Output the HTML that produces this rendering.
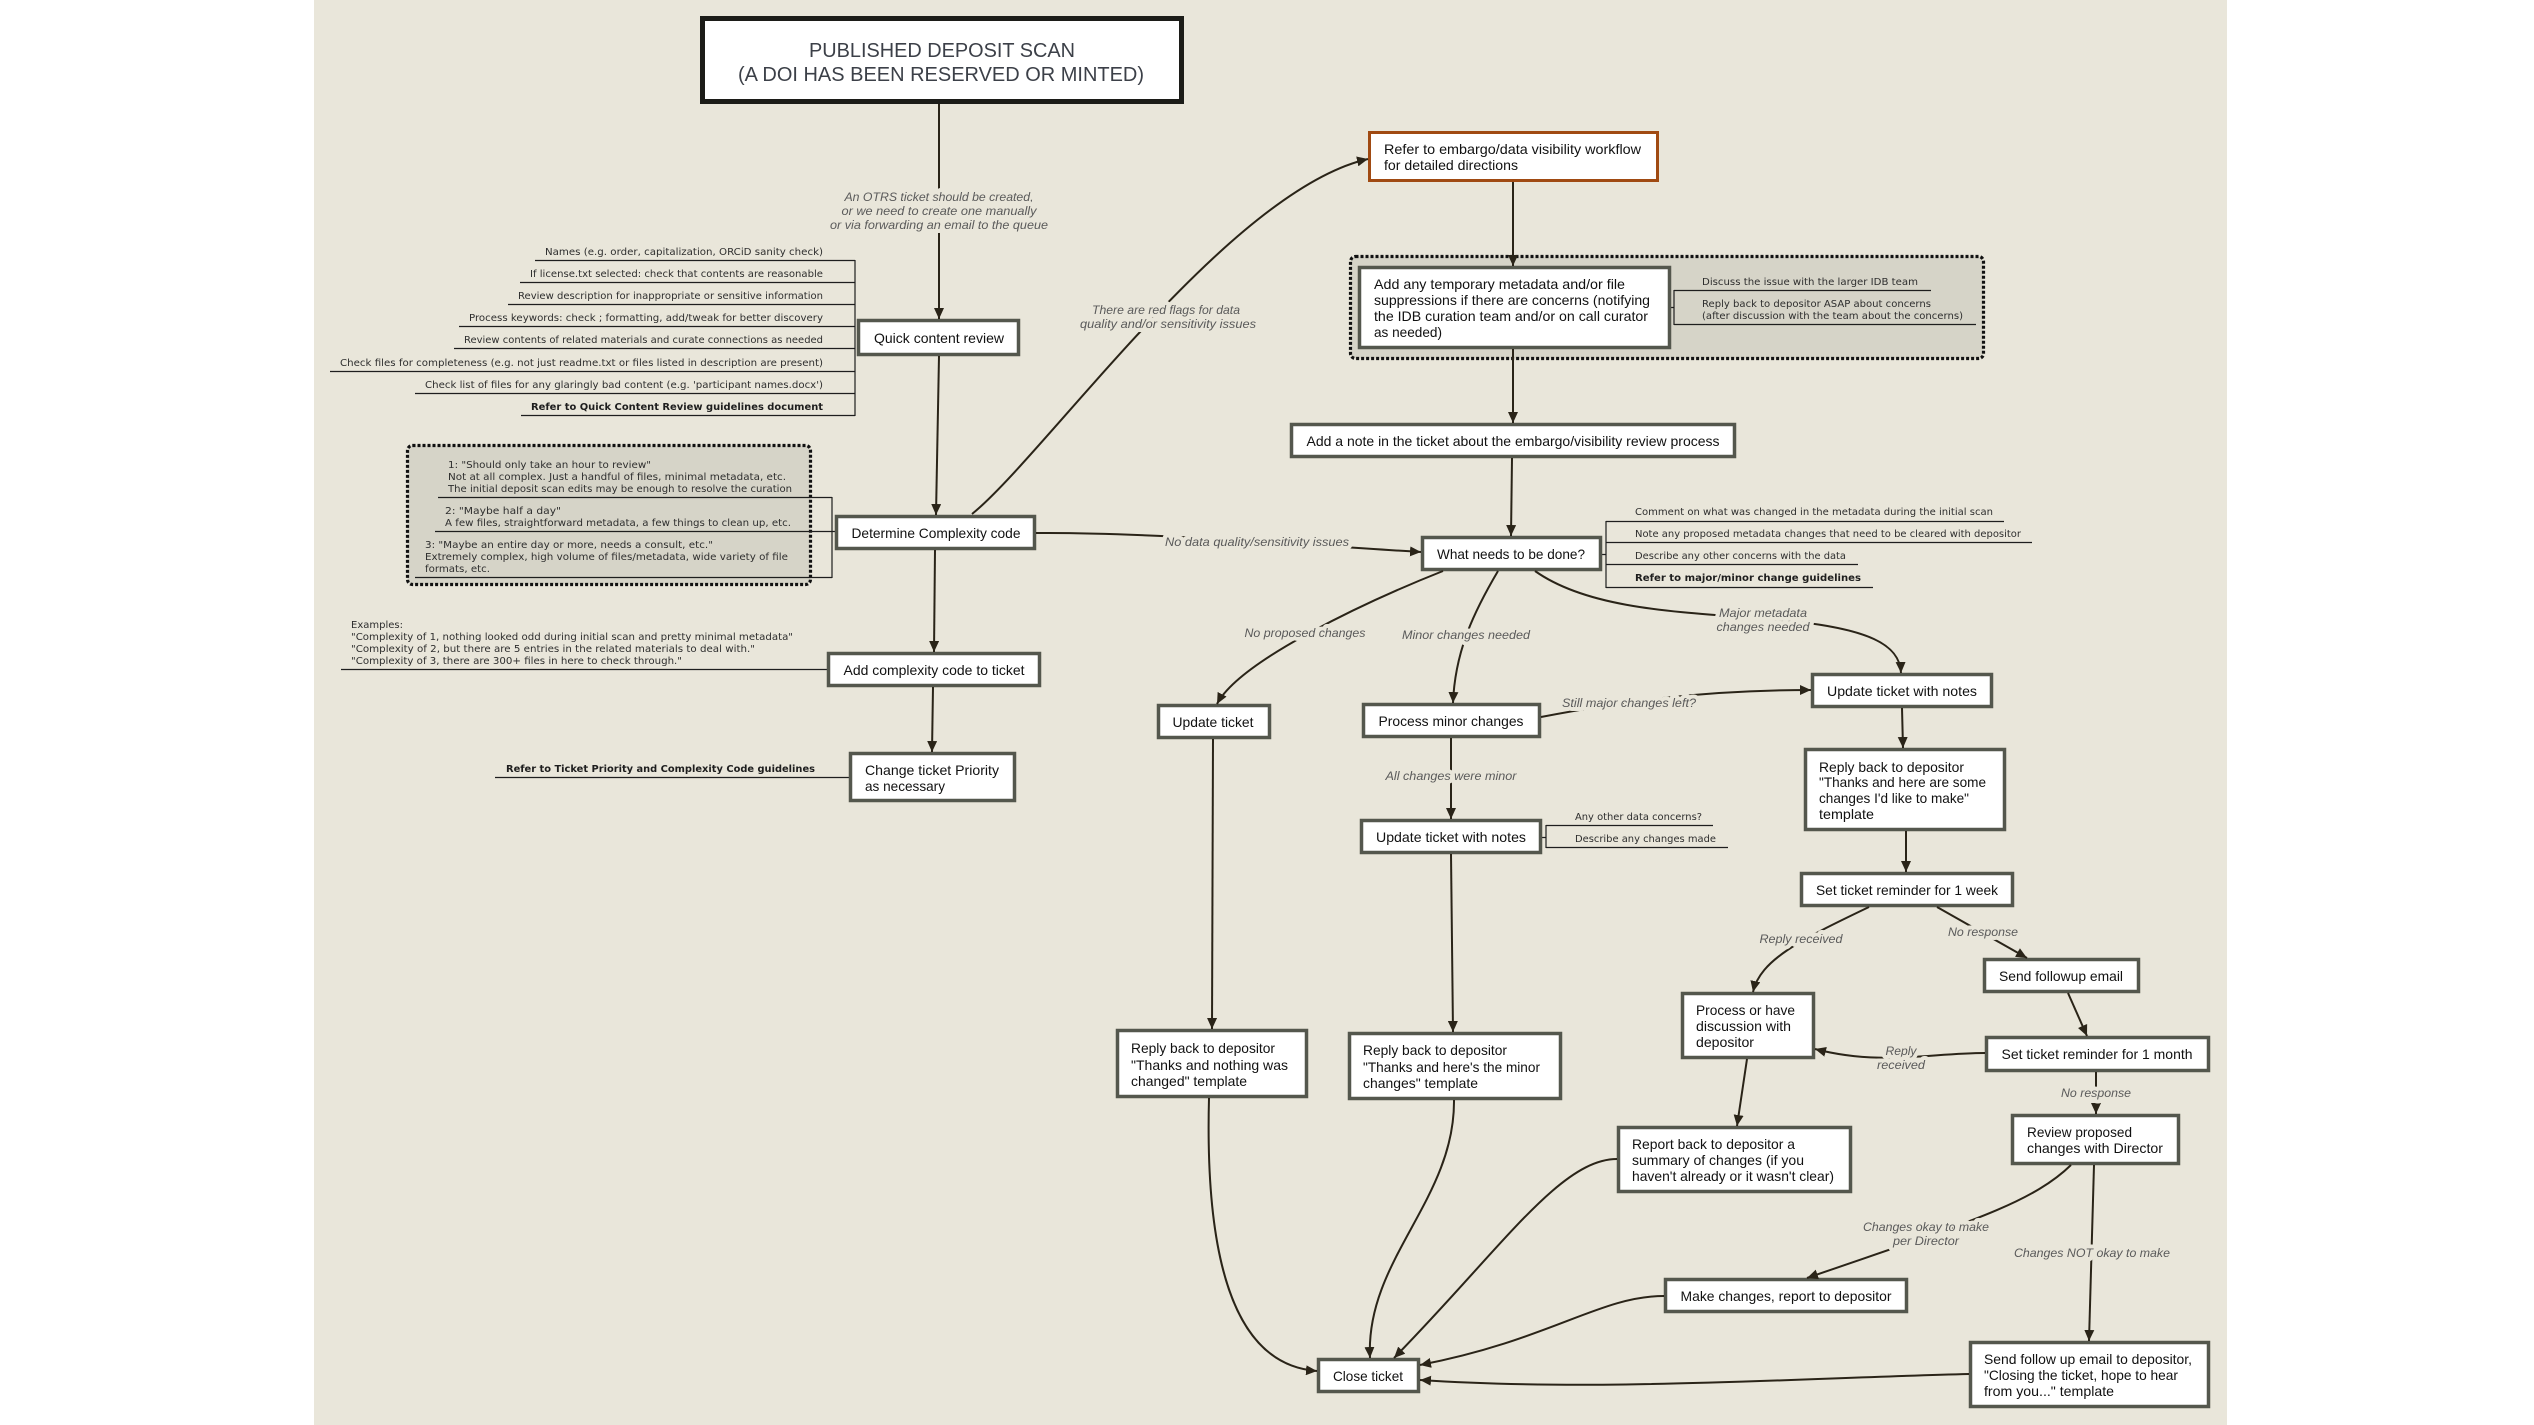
<!DOCTYPE html>
<html>
<head>
<meta charset="utf-8">
<style>
html,body{margin:0;padding:0;background:#ffffff;}
svg{display:block;}
.bx{fill:#ffffff;stroke:#54574d;stroke-width:3.5;}
.t{font-family:"Liberation Sans",Arial,sans-serif;font-size:14px;fill:#111111;}
.n{font-family:"DejaVu Sans","Liberation Sans",sans-serif;font-size:10px;fill:#2e2e2e;}
.nb{font-family:"DejaVu Sans","Liberation Sans",sans-serif;font-size:10px;font-weight:bold;fill:#1e1e1e;}
.l{font-family:"Liberation Sans",Arial,sans-serif;font-size:12px;font-style:italic;fill:#5a5a5a;stroke:#e9e6da;stroke-width:8;paint-order:stroke;stroke-linejoin:round;}
.c{fill:none;stroke:#2a2418;stroke-width:2;}
.u{fill:none;stroke:#1e1e1e;stroke-width:1.2;}
.dot{fill:#d6d4c8;stroke:#111111;stroke-width:3.2;stroke-dasharray:3 2;}
</style>
</head>
<body>
<svg width="2534" height="1425" viewBox="0 0 2534 1425" xmlns="http://www.w3.org/2000/svg">
<defs>
<marker id="a" markerUnits="userSpaceOnUse" markerWidth="11" markerHeight="10" refX="11" refY="5" orient="auto">
<path d="M0,0 L11,5 L0,10 z" fill="#2a2418"/>
</marker>
</defs>

<rect x="0" y="0" width="2534" height="1425" fill="#ffffff"/>
<rect x="314" y="0" width="1913" height="1425" fill="#e9e6da"/>

<!-- dotted groups -->
<rect class="dot" x="407.5" y="445.5" width="403" height="139" rx="5"/>
<rect class="dot" x="1350.5" y="256.5" width="633" height="102" rx="5"/>

<!-- title -->
<rect x="702.5" y="18.5" width="479" height="83" fill="#ffffff" stroke="#1c1c18" stroke-width="5"/>
<text x="942" y="57" text-anchor="middle" font-family="Liberation Sans, Arial, sans-serif" font-size="20" fill="#3c4048" textLength="266" lengthAdjust="spacingAndGlyphs">PUBLISHED DEPOSIT SCAN</text>
<text x="941" y="81" text-anchor="middle" font-family="Liberation Sans, Arial, sans-serif" font-size="20" fill="#3c4048" textLength="406" lengthAdjust="spacingAndGlyphs">(A DOI HAS BEEN RESERVED OR MINTED)</text>

<!-- left notes for quick review -->
<g>
<text class="n" x="823" y="255" text-anchor="end" textLength="278" lengthAdjust="spacingAndGlyphs">Names (e.g. order, capitalization, ORCiD sanity check)</text>
<text class="n" x="823" y="277" text-anchor="end" textLength="293" lengthAdjust="spacingAndGlyphs">If license.txt selected: check that contents are reasonable</text>
<text class="n" x="823" y="299" text-anchor="end" textLength="305" lengthAdjust="spacingAndGlyphs">Review description for inappropriate or sensitive information</text>
<text class="n" x="823" y="321" text-anchor="end" textLength="354" lengthAdjust="spacingAndGlyphs">Process keywords: check ; formatting, add/tweak for better discovery</text>
<text class="n" x="823" y="343" text-anchor="end" textLength="359" lengthAdjust="spacingAndGlyphs">Review contents of related materials and curate connections as needed</text>
<text class="n" x="823" y="366" text-anchor="end" textLength="483" lengthAdjust="spacingAndGlyphs">Check files for completeness (e.g. not just readme.txt or files listed in description are present)</text>
<text class="n" x="823" y="388" text-anchor="end" textLength="398" lengthAdjust="spacingAndGlyphs">Check list of files for any glaringly bad content (e.g. 'participant names.docx')</text>
<text class="nb" x="823" y="410" text-anchor="end" textLength="292" lengthAdjust="spacingAndGlyphs">Refer to Quick Content Review guidelines document</text>
<path class="u" d="M535 260.5H855 M520 282.5H855 M508 304.5H855 M459 326.5H855 M454 348.5H855 M330 371.5H855 M415 393.5H855 M521 415.5H855 M855 260V416"/>
</g>

<!-- complexity notes -->
<g>
<text class="n" x="448" y="468" textLength="203" lengthAdjust="spacingAndGlyphs">1:  "Should only take an hour to review"</text>
<text class="n" x="448" y="480" textLength="338" lengthAdjust="spacingAndGlyphs">Not at all complex. Just a handful of files, minimal metadata, etc.</text>
<text class="n" x="448" y="492" textLength="344" lengthAdjust="spacingAndGlyphs">The initial deposit scan edits may be enough to resolve the curation</text>
<text class="n" x="445" y="514" textLength="116" lengthAdjust="spacingAndGlyphs">2:  "Maybe half a day"</text>
<text class="n" x="445" y="526" textLength="346" lengthAdjust="spacingAndGlyphs">A few files, straightforward metadata, a few things to clean up, etc.</text>
<text class="n" x="425" y="548" textLength="288" lengthAdjust="spacingAndGlyphs">3:  "Maybe an entire day or more, needs a consult, etc."</text>
<text class="n" x="425" y="560" textLength="363" lengthAdjust="spacingAndGlyphs">Extremely complex, high volume of files/metadata, wide variety of file</text>
<text class="n" x="425" y="572" textLength="65" lengthAdjust="spacingAndGlyphs">formats, etc.</text>
<path class="u" d="M438 497.5H832 M435 531.5H836 M415 577.5H832 M832 497V578"/>
</g>

<!-- examples -->
<g>
<text class="n" x="351" y="628" textLength="52" lengthAdjust="spacingAndGlyphs">Examples:</text>
<text class="n" x="351" y="640" textLength="442" lengthAdjust="spacingAndGlyphs">"Complexity of 1, nothing looked odd during initial scan and pretty minimal metadata"</text>
<text class="n" x="351" y="652" textLength="404" lengthAdjust="spacingAndGlyphs">"Complexity of 2, but there are 5 entries in the related materials to deal with."</text>
<text class="n" x="351" y="664" textLength="331" lengthAdjust="spacingAndGlyphs">"Complexity of 3, there are 300+ files in here to check through."</text>
<path class="u" d="M341 669.5H828"/>
</g>

<text class="nb" x="506" y="772" textLength="309" lengthAdjust="spacingAndGlyphs">Refer to Ticket Priority and Complexity Code guidelines</text>
<path class="u" d="M495 777.5H850"/>

<!-- temp box notes -->
<g>
<text class="n" x="1702" y="285" textLength="216" lengthAdjust="spacingAndGlyphs">Discuss the issue with the larger IDB team</text>
<text class="n" x="1702" y="307" textLength="229" lengthAdjust="spacingAndGlyphs">Reply back to depositor ASAP about concerns</text>
<text class="n" x="1702" y="319" textLength="261" lengthAdjust="spacingAndGlyphs">(after discussion with the team about the concerns)</text>
<path class="u" d="M1674 290.5H1931 M1674 324.5H1976 M1674 290V325 M1670 307.5H1674"/>
</g>

<!-- what needs notes -->
<g>
<text class="n" x="1635" y="515" textLength="358" lengthAdjust="spacingAndGlyphs">Comment on what was changed in the metadata during the initial scan</text>
<text class="n" x="1635" y="537" textLength="386" lengthAdjust="spacingAndGlyphs">Note any proposed metadata changes that need to be cleared with depositor</text>
<text class="n" x="1635" y="559" textLength="211" lengthAdjust="spacingAndGlyphs">Describe any other concerns with the data</text>
<text class="nb" x="1635" y="581" textLength="226" lengthAdjust="spacingAndGlyphs">Refer to major/minor change guidelines</text>
<path class="u" d="M1606 521.5H2004 M1606 542.5H2032 M1606 564.5H1858 M1606 587.5H1873 M1606 521V588 M1601 554.5H1606"/>
</g>

<!-- update notes mid notes -->
<g>
<text class="n" x="1575" y="820" textLength="127" lengthAdjust="spacingAndGlyphs">Any other data concerns?</text>
<text class="n" x="1575" y="842" textLength="141" lengthAdjust="spacingAndGlyphs">Describe any changes made</text>
<path class="u" d="M1546 825.5H1713 M1546 847.5H1728 M1546 825V848 M1541 837.5H1546"/>
</g>

<!-- boxes -->
<rect class="bx" x="858.5" y="320.5" width="160" height="34"/>
<text class="t" x="939" y="343" text-anchor="middle" textLength="130" lengthAdjust="spacingAndGlyphs">Quick content review</text>

<rect class="bx" x="836.5" y="516.5" width="198" height="32"/>
<text class="t" x="936" y="538" text-anchor="middle" textLength="169" lengthAdjust="spacingAndGlyphs">Determine Complexity code</text>

<rect class="bx" x="828.5" y="653.5" width="211" height="32"/>
<text class="t" x="934" y="675" text-anchor="middle" textLength="181" lengthAdjust="spacingAndGlyphs">Add complexity code to ticket</text>

<rect class="bx" x="850.5" y="753.5" width="164" height="47"/>
<text class="t" x="865" y="775" textLength="134" lengthAdjust="spacingAndGlyphs">Change ticket Priority</text>
<text class="t" x="865" y="791" textLength="80" lengthAdjust="spacingAndGlyphs">as necessary</text>

<rect x="1369.5" y="132.5" width="288" height="48" fill="#ffffff" stroke="#a04a12" stroke-width="3"/>
<text class="t" x="1384" y="154" textLength="257" lengthAdjust="spacingAndGlyphs">Refer to embargo/data visibility workflow</text>
<text class="t" x="1384" y="170" textLength="134" lengthAdjust="spacingAndGlyphs">for detailed directions</text>

<rect class="bx" x="1359.5" y="267.5" width="310" height="80"/>
<text class="t" x="1374" y="289" textLength="251" lengthAdjust="spacingAndGlyphs">Add any temporary metadata and/or file</text>
<text class="t" x="1374" y="305" textLength="276" lengthAdjust="spacingAndGlyphs">suppressions if there are concerns (notifying</text>
<text class="t" x="1374" y="321" textLength="274" lengthAdjust="spacingAndGlyphs">the IDB curation team and/or on call curator</text>
<text class="t" x="1374" y="337" textLength="68" lengthAdjust="spacingAndGlyphs">as needed)</text>

<rect class="bx" x="1291.5" y="424.5" width="443" height="32"/>
<text class="t" x="1513" y="446" text-anchor="middle" textLength="413" lengthAdjust="spacingAndGlyphs">Add a note in the ticket about the embargo/visibility review process</text>

<rect class="bx" x="1422.5" y="537.5" width="178" height="32"/>
<text class="t" x="1511" y="559" text-anchor="middle" textLength="148" lengthAdjust="spacingAndGlyphs">What needs to be done?</text>

<rect class="bx" x="1158.5" y="705.5" width="111" height="32"/>
<text class="t" x="1213" y="727" text-anchor="middle" textLength="81" lengthAdjust="spacingAndGlyphs">Update ticket</text>

<rect class="bx" x="1363.5" y="704.5" width="176" height="32"/>
<text class="t" x="1451" y="726" text-anchor="middle" textLength="145" lengthAdjust="spacingAndGlyphs">Process minor changes</text>

<rect class="bx" x="1361.5" y="820.5" width="179" height="32"/>
<text class="t" x="1451" y="842" text-anchor="middle" textLength="150" lengthAdjust="spacingAndGlyphs">Update ticket with notes</text>

<rect class="bx" x="1812.5" y="674.5" width="179" height="32"/>
<text class="t" x="1902" y="696" text-anchor="middle" textLength="150" lengthAdjust="spacingAndGlyphs">Update ticket with notes</text>

<rect class="bx" x="1805.5" y="749.5" width="199" height="80"/>
<text class="t" x="1819" y="772" textLength="145" lengthAdjust="spacingAndGlyphs">Reply back to depositor</text>
<text class="t" x="1819" y="787" textLength="167" lengthAdjust="spacingAndGlyphs">"Thanks and here are some</text>
<text class="t" x="1819" y="803" textLength="150" lengthAdjust="spacingAndGlyphs">changes I'd like to make"</text>
<text class="t" x="1819" y="819" textLength="55" lengthAdjust="spacingAndGlyphs">template</text>

<rect class="bx" x="1801.5" y="873.5" width="211" height="32"/>
<text class="t" x="1907" y="895" text-anchor="middle" textLength="182" lengthAdjust="spacingAndGlyphs">Set ticket reminder for 1 week</text>

<rect class="bx" x="1984.5" y="959.5" width="154" height="32"/>
<text class="t" x="2061" y="981" text-anchor="middle" textLength="124" lengthAdjust="spacingAndGlyphs">Send followup email</text>

<rect class="bx" x="1682.5" y="993.5" width="131" height="64"/>
<text class="t" x="1696" y="1015" textLength="99" lengthAdjust="spacingAndGlyphs">Process or have</text>
<text class="t" x="1696" y="1031" textLength="95" lengthAdjust="spacingAndGlyphs">discussion with</text>
<text class="t" x="1696" y="1047" textLength="58" lengthAdjust="spacingAndGlyphs">depositor</text>

<rect class="bx" x="1986.5" y="1037.5" width="222" height="33"/>
<text class="t" x="2097" y="1059" text-anchor="middle" textLength="191" lengthAdjust="spacingAndGlyphs">Set ticket reminder for 1 month</text>

<rect class="bx" x="1618.5" y="1127.5" width="232" height="64"/>
<text class="t" x="1632" y="1149" textLength="163" lengthAdjust="spacingAndGlyphs">Report back to depositor a</text>
<text class="t" x="1632" y="1165" textLength="172" lengthAdjust="spacingAndGlyphs">summary of changes (if you</text>
<text class="t" x="1632" y="1181" textLength="202" lengthAdjust="spacingAndGlyphs">haven't already or it wasn't clear)</text>

<rect class="bx" x="2012.5" y="1115.5" width="166" height="48"/>
<text class="t" x="2027" y="1137" textLength="105" lengthAdjust="spacingAndGlyphs">Review proposed</text>
<text class="t" x="2027" y="1153" textLength="136" lengthAdjust="spacingAndGlyphs">changes with Director</text>

<rect class="bx" x="1665.5" y="1279.5" width="241" height="32"/>
<text class="t" x="1786" y="1301" text-anchor="middle" textLength="211" lengthAdjust="spacingAndGlyphs">Make changes, report to depositor</text>

<rect class="bx" x="1970.5" y="1342.5" width="238" height="64"/>
<text class="t" x="1984" y="1364" textLength="208" lengthAdjust="spacingAndGlyphs">Send follow up email to depositor,</text>
<text class="t" x="1984" y="1380" textLength="194" lengthAdjust="spacingAndGlyphs">"Closing the ticket, hope to hear</text>
<text class="t" x="1984" y="1396" textLength="130" lengthAdjust="spacingAndGlyphs">from you..." template</text>

<rect class="bx" x="1117.5" y="1030.5" width="189" height="66"/>
<text class="t" x="1131" y="1053" textLength="144" lengthAdjust="spacingAndGlyphs">Reply back to depositor</text>
<text class="t" x="1131" y="1070" textLength="157" lengthAdjust="spacingAndGlyphs">"Thanks and nothing was</text>
<text class="t" x="1131" y="1086" textLength="116" lengthAdjust="spacingAndGlyphs">changed" template</text>

<rect class="bx" x="1349.5" y="1033.5" width="211" height="65"/>
<text class="t" x="1363" y="1055" textLength="144" lengthAdjust="spacingAndGlyphs">Reply back to depositor</text>
<text class="t" x="1363" y="1072" textLength="177" lengthAdjust="spacingAndGlyphs">"Thanks and here's the minor</text>
<text class="t" x="1363" y="1088" textLength="115" lengthAdjust="spacingAndGlyphs">changes" template</text>

<rect class="bx" x="1318.5" y="1359.5" width="100" height="32"/>
<text class="t" x="1368" y="1381" text-anchor="middle" textLength="70" lengthAdjust="spacingAndGlyphs">Close ticket</text>

<!-- connectors -->
<g>
<path class="c" marker-end="url(#a)" d="M939 104 V319"/>
<path class="c" marker-end="url(#a)" d="M939 356 L936 515"/>
<path class="c" marker-end="url(#a)" d="M935 550 L934 652"/>
<path class="c" marker-end="url(#a)" d="M933 687 L932 752"/>
<path class="c" marker-end="url(#a)" d="M972 514 C1045 455 1230 190 1368 159"/>
<path class="c" marker-end="url(#a)" d="M1036 533 C1150 532 1300 545 1421 552"/>
<path class="c" marker-end="url(#a)" d="M1513 182 V266"/>
<path class="c" marker-end="url(#a)" d="M1513 349 V423"/>
<path class="c" marker-end="url(#a)" d="M1512 458 L1511 536"/>
<path class="c" marker-end="url(#a)" d="M1443 571 C1370 600 1240 660 1217 704"/>
<path class="c" marker-end="url(#a)" d="M1498 571 C1475 610 1455 650 1453 703"/>
<path class="c" marker-end="url(#a)" d="M1535 571 C1590 610 1680 612 1780 620 C1870 628 1900 645 1901 673"/>
<path class="c" marker-end="url(#a)" d="M1541 717 C1620 702 1700 690 1811 690"/>
<path class="c" marker-end="url(#a)" d="M1451 738 V819"/>
<path class="c" marker-end="url(#a)" d="M1213 739 L1212 1029"/>
<path class="c" marker-end="url(#a)" d="M1451 854 L1453 1032"/>
<path class="c" marker-end="url(#a)" d="M1902 708 L1903 748"/>
<path class="c" marker-end="url(#a)" d="M1906 831 V872"/>
<path class="c" marker-end="url(#a)" d="M1869 907 C1800 940 1760 960 1753 992"/>
<path class="c" marker-end="url(#a)" d="M1937 907 L2027 958"/>
<path class="c" marker-end="url(#a)" d="M2068 993 L2087 1036"/>
<path class="c" marker-end="url(#a)" d="M1985 1053 C1930 1053 1880 1066 1815 1049"/>
<path class="c" marker-end="url(#a)" d="M1747 1059 L1737 1126"/>
<path class="c" marker-end="url(#a)" d="M2096 1072 V1114"/>
<path class="c" marker-end="url(#a)" d="M2071 1165 C2030 1205 1960 1225 1807 1278"/>
<path class="c" marker-end="url(#a)" d="M2094 1165 L2089 1341"/>
<path class="c" marker-end="url(#a)" d="M1209 1098 C1205 1250 1230 1365 1317 1371"/>
<path class="c" marker-end="url(#a)" d="M1454 1100 C1455 1200 1365 1260 1370 1358"/>
<path class="c" marker-end="url(#a)" d="M1617 1159 C1560 1159 1500 1250 1394 1358"/>
<path class="c" marker-end="url(#a)" d="M1664 1296 C1600 1296 1550 1340 1420 1365"/>
<path class="c" marker-end="url(#a)" d="M1969 1374 C1800 1378 1600 1392 1420 1380"/>
</g>

<!-- edge labels -->
<text class="l" x="939" y="201" text-anchor="middle" textLength="189" lengthAdjust="spacingAndGlyphs">An OTRS ticket should be created,</text>
<text class="l" x="939" y="215" text-anchor="middle" textLength="195" lengthAdjust="spacingAndGlyphs">or we need to create one manually</text>
<text class="l" x="939" y="229" text-anchor="middle" textLength="218" lengthAdjust="spacingAndGlyphs">or via forwarding an email to the queue</text>

<text class="l" x="1166" y="314" text-anchor="middle" textLength="148" lengthAdjust="spacingAndGlyphs">There are red flags for data</text>
<text class="l" x="1168" y="328" text-anchor="middle" textLength="176" lengthAdjust="spacingAndGlyphs">quality and/or sensitivity issues</text>

<text class="l" x="1257" y="546" text-anchor="middle" textLength="184" lengthAdjust="spacingAndGlyphs">No data quality/sensitivity issues</text>

<text class="l" x="1305" y="637" text-anchor="middle" textLength="121" lengthAdjust="spacingAndGlyphs">No proposed changes</text>
<text class="l" x="1466" y="639" text-anchor="middle" textLength="128" lengthAdjust="spacingAndGlyphs">Minor changes needed</text>
<text class="l" x="1763" y="617" text-anchor="middle" textLength="88" lengthAdjust="spacingAndGlyphs">Major metadata</text>
<text class="l" x="1763" y="631" text-anchor="middle" textLength="93" lengthAdjust="spacingAndGlyphs">changes needed</text>
<text class="l" x="1629" y="707" text-anchor="middle" textLength="134" lengthAdjust="spacingAndGlyphs">Still major changes left?</text>
<text class="l" x="1451" y="780" text-anchor="middle" textLength="131" lengthAdjust="spacingAndGlyphs">All changes were minor</text>
<text class="l" x="1801" y="943" text-anchor="middle" textLength="83" lengthAdjust="spacingAndGlyphs">Reply received</text>
<text class="l" x="1983" y="936" text-anchor="middle" textLength="70" lengthAdjust="spacingAndGlyphs">No response</text>
<text class="l" x="1901" y="1055" text-anchor="middle" textLength="31" lengthAdjust="spacingAndGlyphs">Reply</text>
<text class="l" x="1901" y="1069" text-anchor="middle" textLength="48" lengthAdjust="spacingAndGlyphs">received</text>
<text class="l" x="2096" y="1097" text-anchor="middle" textLength="70" lengthAdjust="spacingAndGlyphs">No response</text>
<text class="l" x="1926" y="1231" text-anchor="middle" textLength="126" lengthAdjust="spacingAndGlyphs">Changes okay to make</text>
<text class="l" x="1926" y="1245" text-anchor="middle" textLength="66" lengthAdjust="spacingAndGlyphs">per Director</text>
<text class="l" x="2092" y="1257" text-anchor="middle" textLength="156" lengthAdjust="spacingAndGlyphs">Changes NOT okay to make</text>
</svg>
</body>
</html>
